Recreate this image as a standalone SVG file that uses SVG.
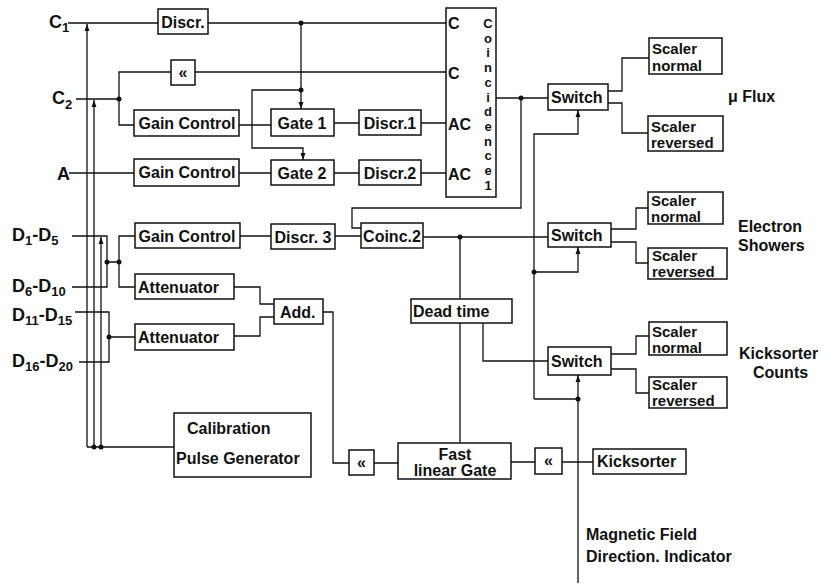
<svg xmlns="http://www.w3.org/2000/svg" width="825" height="584" viewBox="0 0 825 584">
<defs>
<style>
.b{fill:#fff;stroke:#111;stroke-width:1.5}
.t{font-family:"Liberation Sans",Arial,sans-serif;font-weight:bold;font-size:16px;fill:#111}
.s{font-size:15px}
.v{font-family:"Liberation Sans",Arial,sans-serif;font-weight:bold;font-size:13px;fill:#111;text-anchor:middle}
.l{font-family:"Liberation Sans",Arial,sans-serif;font-weight:bold;font-size:18px;fill:#111}
.sub{font-size:13px}
.c{fill:none;stroke:#111;stroke-width:1.3}
.d{fill:#111}
</style>
<marker id="ar" viewBox="0 0 10 10" refX="10" refY="5" markerWidth="7" markerHeight="7" orient="auto" markerUnits="userSpaceOnUse"><path d="M0,1.5 L10,5 L0,8.5 z" fill="#111"/></marker>
</defs>
<rect width="825" height="584" fill="#fff"/>
<g id="connectors">
<path class="c" d="M87,447 V24" marker-end="url(#ar)"/>
<path class="c" d="M94,447 V100" marker-end="url(#ar)"/>
<path class="c" d="M101,447 V237" marker-end="url(#ar)"/>
<path class="c" d="M87,447 H174"/>
<path class="c" d="M68,23 H158 M208,23 H446"/>
<path class="c" d="M301,23 V109" marker-end="url(#ar)"/>
<path class="c" d="M301,90 H252 V148 H303 V160" marker-end="url(#ar)"/>
<path class="c" d="M76,99 H119 V72 H171 M195,72 H446"/>
<path class="c" d="M119,99 V125 H134"/>
<path class="c" d="M239,125 H271 M334,123 H359 M421,123 H446"/>
<path class="c" d="M69,173 H134 M239,173 H271 M334,173 H359 M421,173 H446"/>
<path class="c" d="M496,98 H548"/>
<path class="c" d="M521,98 V208 H352 V228 H361"/>
<path class="c" d="M72,236 H107 V287 H72"/>
<path class="c" d="M107,262 H119 V236 H135 M119,262 V287 H135"/>
<path class="c" d="M75,312 H109 V362 H79 M109,337 H135"/>
<path class="c" d="M240,236 H271 M335,236 H361"/>
<path class="c" d="M234,287 H260 V304 H274 M234,336 H260 V317 H274"/>
<path class="c" d="M323,312 H333 V463 H349 M374,463 H398"/>
<path class="c" d="M423,237 H548"/>
<path class="c" d="M460,237 V299 M460,323 V443"/>
<path class="c" d="M483,323 V361 H548"/>
<path class="c" d="M534,399 V134 H578 V110" marker-end="url(#ar)"/>
<path class="c" d="M534,272 H578 V247" marker-end="url(#ar)"/>
<path class="c" d="M578,583 V375" marker-end="url(#ar)"/>
<path class="c" d="M534,399 H578"/>
<path class="c" d="M511,462 H535 M562,462 H593"/>
<path class="c" d="M608,91 H622 V58 H649 M608,103 H622 V133 H648"/>
<path class="c" d="M611,229 H636 V208 H648 M611,242 H636 V263 H648"/>
<path class="c" d="M611,354 H636 V336 H649 M611,369 H636 V393 H649"/>
<circle class="d" cx="301" cy="23" r="2.5"/>
<circle class="d" cx="301" cy="90" r="2.5"/>
<circle class="d" cx="119" cy="99" r="2.5"/>
<circle class="d" cx="521" cy="98" r="2.5"/>
<circle class="d" cx="460" cy="237" r="2.5"/>
<circle class="d" cx="107" cy="262" r="2.5"/>
<circle class="d" cx="119" cy="262" r="2.5"/>
<circle class="d" cx="109" cy="337" r="2.5"/>
<circle class="d" cx="534" cy="272" r="2.5"/>
<circle class="d" cx="578" cy="399" r="2.5"/>
<circle class="d" cx="94" cy="447" r="2.5"/>
<circle class="d" cx="101" cy="447" r="2.5"/>
</g>
<g id="inputs">
<text class="l" x="49" y="28">C<tspan class="sub" dy="4">1</tspan></text>
<text class="l" x="52" y="104">C<tspan class="sub" dy="5">2</tspan></text>
<text class="l" x="57" y="180">A</text>
<text class="l" x="12" y="241">D<tspan class="sub" dy="4">1</tspan><tspan dy="-4">-D</tspan><tspan class="sub" dy="4">5</tspan></text>
<text class="l" x="12" y="292">D<tspan class="sub" dy="4">6</tspan><tspan dy="-4">-D</tspan><tspan class="sub" dy="4">10</tspan></text>
<text class="l" x="12" y="321">D<tspan class="sub" dy="4">11</tspan><tspan dy="-4">-D</tspan><tspan class="sub" dy="4">15</tspan></text>
<text class="l" x="12" y="367">D<tspan class="sub" dy="4">16</tspan><tspan dy="-4">-D</tspan><tspan class="sub" dy="4">20</tspan></text>
</g>
<g id="discr"><rect class="b" x="158" y="9" width="50" height="25"/><text class="t" x="183" y="28" text-anchor="middle">Discr.</text></g>
<g id="delay1"><rect class="b" x="171" y="60" width="24" height="25"/><text class="t" x="183" y="78" text-anchor="middle">«</text></g>
<g id="gain1"><rect class="b" x="134" y="110" width="105" height="26"/><text class="t" x="187" y="129" text-anchor="middle">Gain Control</text></g>
<g id="gain2"><rect class="b" x="134" y="159" width="105" height="27"/><text class="t" x="187" y="178" text-anchor="middle">Gain Control</text></g>
<g id="gate1"><rect class="b" x="271" y="109" width="63" height="27"/><text class="t" x="302" y="129" text-anchor="middle">Gate 1</text></g>
<g id="gate2"><rect class="b" x="271" y="160" width="63" height="25"/><text class="t" x="302" y="179" text-anchor="middle">Gate 2</text></g>
<g id="discr1"><rect class="b" x="359" y="110" width="62" height="25"/><text class="t" x="390" y="129" text-anchor="middle">Discr.1</text></g>
<g id="discr2"><rect class="b" x="359" y="160" width="62" height="25"/><text class="t" x="390" y="179" text-anchor="middle">Discr.2</text></g>
<g id="coinc1"><rect class="b" x="446" y="8" width="50" height="189"/>
<text class="t" x="448" y="29">C</text><text class="t" x="448" y="79">C</text><text class="t" x="448" y="130">AC</text><text class="t" x="448" y="180">AC</text>
<text class="v" x="488" y="28">C</text><text class="v" x="488" y="42.7">o</text><text class="v" x="488" y="57.4">i</text><text class="v" x="488" y="72.1">n</text><text class="v" x="488" y="86.8">c</text><text class="v" x="488" y="101.5">i</text><text class="v" x="488" y="116.2">d</text><text class="v" x="488" y="130.9">e</text><text class="v" x="488" y="145.6">n</text><text class="v" x="488" y="160.3">c</text><text class="v" x="488" y="175">e</text><text class="v" x="488" y="190">1</text></g>
<g id="gain3"><rect class="b" x="135" y="223" width="105" height="25"/><text class="t" x="187" y="242" text-anchor="middle">Gain Control</text></g>
<g id="att1"><rect class="b" x="135" y="274" width="99" height="25"/><text class="t" x="138" y="293">Attenuator</text></g>
<g id="att2"><rect class="b" x="135" y="324" width="99" height="26"/><text class="t" x="138" y="343">Attenuator</text></g>
<g id="add"><rect class="b" x="274" y="299" width="49" height="25"/><text class="t" x="280" y="318">Add.</text></g>
<g id="discr3"><rect class="b" x="271" y="224" width="64" height="25"/><text class="t" x="303" y="243" text-anchor="middle">Discr. 3</text></g>
<g id="coinc2"><rect class="b" x="361" y="223" width="62" height="25"/><text class="t" x="392" y="242" text-anchor="middle">Coinc.2</text></g>
<g id="deadtime"><rect class="b" x="411" y="299" width="101" height="24"/><text class="t" x="413" y="317">Dead time</text></g>
<g id="calib"><rect class="b" x="174" y="413" width="137" height="64"/><text class="t" x="187" y="434">Calibration</text><text class="t" x="176" y="464">Pulse  Generator</text></g>
<g id="delay2"><rect class="b" x="349" y="450" width="25" height="25"/><text class="t" x="361.5" y="468" text-anchor="middle">«</text></g>
<g id="flg"><rect class="b" x="398" y="443" width="113" height="36"/><text class="t" x="455" y="460" text-anchor="middle">Fast</text><text class="t" x="455" y="476" text-anchor="middle">linear  Gate</text></g>
<g id="delay3"><rect class="b" x="535" y="448" width="27" height="26"/><text class="t" x="548.5" y="466" text-anchor="middle">«</text></g>
<g id="kicksorter"><rect class="b" x="593" y="449" width="93" height="25"/><text class="t" x="597" y="467">Kicksorter</text></g>
<g id="switch1"><rect class="b" x="548" y="84" width="60" height="26"/><text class="t" x="551" y="103">Switch</text></g>
<g id="switch2"><rect class="b" x="548" y="223" width="63" height="24"/><text class="t" x="551" y="241">Switch</text></g>
<g id="switch3"><rect class="b" x="548" y="347" width="63" height="28"/><text class="t" x="551" y="367">Switch</text></g>
<g id="sn1"><rect class="b" x="649" y="38" width="73" height="36"/><text class="t s" x="652" y="54">Scaler</text><text class="t s" x="652" y="71">normal</text></g>
<g id="sr1"><rect class="b" x="648" y="116" width="75" height="35"/><text class="t s" x="651" y="132">Scaler</text><text class="t s" x="651" y="148">reversed</text></g>
<g id="sn2"><rect class="b" x="648" y="192" width="75" height="32"/><text class="t s" x="651" y="206">Scaler</text><text class="t s" x="651" y="222">normal</text></g>
<g id="sr2"><rect class="b" x="648" y="248" width="79" height="31"/><text class="t s" x="652" y="261">Scaler</text><text class="t s" x="652" y="277">reversed</text></g>
<g id="sn3"><rect class="b" x="649" y="322" width="78" height="33"/><text class="t s" x="652" y="337">Scaler</text><text class="t s" x="652" y="353">normal</text></g>
<g id="sr3"><rect class="b" x="649" y="377" width="78" height="31"/><text class="t s" x="652" y="390">Scaler</text><text class="t s" x="652" y="406">reversed</text></g>
<g id="labels">
<text class="t" x="728" y="102">μ  Flux</text>
<text class="t" x="738" y="232">Electron</text><text class="t" x="738" y="251">Showers</text>
<text class="t" x="739" y="359">Kicksorter</text><text class="t" x="753" y="378">Counts</text>
<text class="t" x="586" y="540">Magnetic  Field</text><text class="t" x="586" y="562">Direction. Indicator</text>
</g>
</svg>
